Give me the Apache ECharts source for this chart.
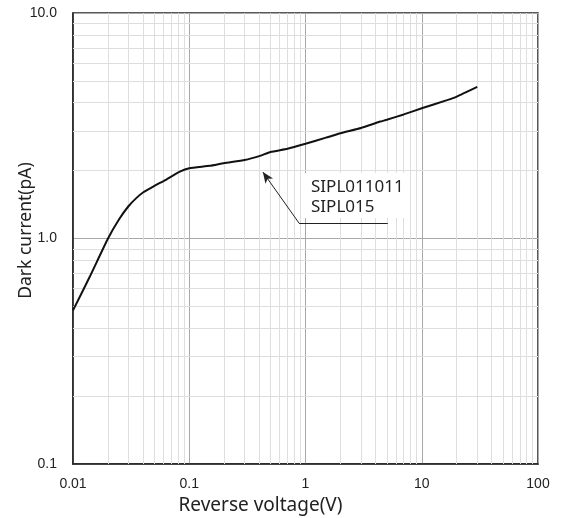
<!DOCTYPE html>
<html><head><meta charset="utf-8">
<script src="https://cdn.jsdelivr.net/npm/echarts@6/dist/echarts.min.js"></script>
<style>html,body{margin:0;padding:0;background:#fff}#c{width:562px;height:518px}</style>
</head><body><div id="c"></div>
<script>
const voltage = [0.01, 0.014, 0.02, 0.025, 0.03, 0.035, 0.04, 0.049, 0.064, 0.083, 0.1, 0.15, 0.2, 0.3, 0.4, 0.5, 0.7, 1, 1.5, 2, 3, 4.4, 5, 7, 10, 16.5, 20, 30];
const current = [0.48, 0.68, 1.0, 1.22, 1.39, 1.51, 1.60, 1.70, 1.83, 1.98, 2.05, 2.10, 2.16, 2.23, 2.32, 2.42, 2.50, 2.63, 2.80, 2.93, 3.09, 3.30, 3.36, 3.55, 3.78, 4.11, 4.26, 4.70];
const xTicks = [0.01, 0.1, 1, 10, 100];
const yTicks = [0.1, 1, 10];
const xMinor = [];
const yMinor = [];
[0.01, 0.1, 1, 10].forEach(d => { for (let k = 2; k <= 9; k++) xMinor.push(+(d * k).toPrecision(3)); });
[0.1, 1].forEach(d => { for (let k = 2; k <= 9; k++) yMinor.push(+(d * k).toPrecision(3)); });
const seriesName = ["SIPL011011", "SIPL015"];
const arrowTip = [0.43, 1.97];
const arrowElbow = [0.88, 1.17];
const leaderEnd = [5.1, 1.17];

const chart = echarts.init(document.getElementById('c'), null, {renderer: 'canvas'});
const minorStyle = {color: '#dedede', width: 1, type: 'solid'};
const tickFont = {fontFamily: 'Liberation Sans', fontSize: 14, color: '#222'};
chart.setOption({
  animation: false,
  grid: {left: 73, right: 24, top: 13, bottom: 54, show: true, borderColor: '#222', borderWidth: 1.5, outerBoundsMode: 'none', containLabel: false},
  xAxis: {
    type: 'log', logBase: 10, min: 0.01, max: 100,
    name: 'Reverse voltage(V)', nameLocation: 'middle', nameGap: 29,
    nameTextStyle: {fontFamily: 'Noto Sans', fontSize: 19, color: '#222', padding: [0, 90, 0, 0]},
    axisLine: {show: true, lineStyle: {color: '#222', width: 1.5}},
    axisTick: {show: false},
    axisLabel: Object.assign({margin: 13, formatter: v => String(+v.toPrecision(3))}, tickFont),
    splitLine: {show: true, lineStyle: {color: '#a8a8a8', width: 1}}
  },
  yAxis: {
    type: 'log', logBase: 10, min: 0.1, max: 10,
    name: 'Dark current(pA)', nameLocation: 'middle', nameGap: 38, nameMoveOverlap: false,
    nameTextStyle: {fontFamily: 'Noto Sans', fontSize: 17.5, color: '#222', padding: [0, 0, 0, 16]},
    axisLine: {show: true, lineStyle: {color: '#222', width: 1.5}},
    axisTick: {show: false},
    axisLabel: Object.assign({margin: 16, formatter: v => Number(v).toFixed(1)}, tickFont),
    splitLine: {show: true, lineStyle: {color: '#a8a8a8', width: 1}}
  },
  series: [
    {
      type: 'line', silent: true, data: [], z: 1,
      markLine: {
        silent: true, symbol: 'none', label: {show: false}, animation: false,
        lineStyle: minorStyle,
        data: xMinor.map(v => ({xAxis: v})).concat(yMinor.map(v => ({yAxis: v})))
      }
    },
    {
      type: 'line', name: seriesName.join(' '),
      data: voltage.map((v, i) => [v, current[i]]),
      showSymbol: false, smooth: 0.15,
      lineStyle: {color: '#111', width: 2}, z: 5,
      markLine: {
        silent: true, animation: false, label: {show: false},
        lineStyle: {color: '#222', width: 1, type: 'solid'},
        data: [
          [{coord: arrowElbow, symbol: 'none'}, {coord: arrowTip, symbol: 'arrow', symbolSize: [7, 11]}],
          [{coord: arrowElbow, symbol: 'none'}, {coord: leaderEnd, symbol: 'none'}]
        ]
      }
    }
  ],
  graphic: [
    {type: 'rect', left: 304, top: 173, shape: {width: 104, height: 45}, style: {fill: '#fff'}, z: 10},
    {type: 'text', left: 311, top: 177, z: 11, style: {text: seriesName.join('\n'), fontFamily: 'Noto Sans', fontSize: 17, lineHeight: 20, fill: '#222'}}
  ]
});
</script></body></html>
